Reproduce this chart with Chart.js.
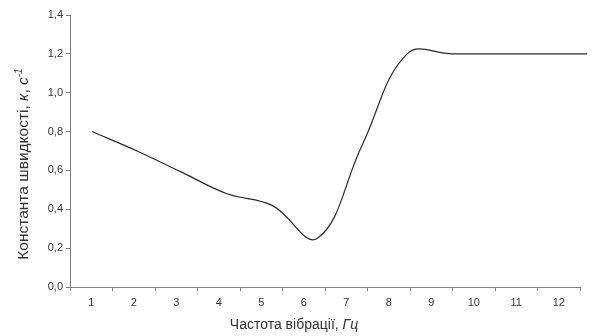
<!DOCTYPE html>
<html lang="uk">
<head>
  <meta charset="UTF-8">
  <title>Константа швидкості</title>
  <script src="https://cdn.jsdelivr.net/npm/chart.js"></script>
  <style>
    body { margin: 0; background: #fff; }
    .wrap { width: 611px; height: 336px; }
  </style>
</head>
<body>
  <div class="wrap"><canvas id="chart"></canvas></div>
  <script>
    // tick labels on the x axis
    const freqLabels = ['1', '2', '3', '4', '5', '6', '7', '8', '9', '10', '11', '12'];
    // measured points (the curve is plotted on its own hidden scale)
    const pointIndex = [1, 2, 3, 4, 5, 6, 7, 8, 9, 10, 11, 12];
    const rateConst = [0.80, 0.70, 0.59, 0.48, 0.42, 0.25, 0.73, 1.20, 1.20, 1.20, 1.20, 1.20];
    const yTicks = [0, 0.2, 0.4, 0.6, 0.8, 1.0, 1.2, 1.4];

    const font = 'Arial, "Liberation Sans", sans-serif';
    const axisGray = '#7f7f7f';
    const textGray = '#333';

    // draw a run of text pieces (some italic / superscript)
    function richText(ctx, parts, size) {
      let w = 0;
      parts.forEach(p => {
        ctx.font = (p.i ? 'italic ' : '') + (p.sup ? size * 0.65 : size) + 'px ' + font;
        p.w = ctx.measureText(p.t).width;
        w += p.w;
      });
      let x = -w / 2;
      parts.forEach(p => {
        ctx.font = (p.i ? 'italic ' : '') + (p.sup ? size * 0.65 : size) + 'px ' + font;
        ctx.fillText(p.t, x, p.sup ? -size * 0.4 : 0);
        x += p.w;
      });
    }

    const titles = {
      id: 'titles',
      afterDraw(chart) {
        const ctx = chart.ctx;
        ctx.save();
        ctx.fillStyle = textGray;
        ctx.textBaseline = 'alphabetic';
        ctx.textAlign = 'left';
        // x title
        ctx.save();
        ctx.translate(294, 329);
        richText(ctx, [{ t: 'Частота вібрації, ' }, { t: 'Гц', i: true }], 14);
        ctx.restore();
        // y title
        ctx.save();
        ctx.translate(28, 164);
        ctx.rotate(-Math.PI / 2);
        richText(ctx, [
          { t: 'Константа швидкості, ' }, { t: 'к', i: true }, { t: ', ' },
          { t: 'с', i: true }, { t: '-1', i: true, sup: true }
        ], 15.5);
        ctx.restore();
        ctx.restore();
      }
    };

    new Chart(document.getElementById('chart'), {
      type: 'line',
      data: {
        labels: freqLabels,
        datasets: [{
          data: pointIndex.map((x, i) => ({ x: x, y: rateConst[i] })),
          xAxisID: 'xp',
          borderColor: '#2a2a2a',
          borderWidth: 1.2,
          pointRadius: 0,
          tension: 0.4,
          fill: false,
          clip: false
        }]
      },
      options: {
        responsive: true,
        maintainAspectRatio: false,
        animation: false,
        layout: { padding: { top: 15, right: 31, left: 0, bottom: 0 } },
        plugins: { legend: { display: false }, tooltip: { enabled: false } },
        scales: {
          x: {
            type: 'category',
            offset: true,
            grid: { offset: true, drawOnChartArea: false, tickLength: 4, color: axisGray },
            border: { color: axisGray, width: 1 },
            ticks: { color: textGray, font: { family: font, size: 11 }, padding: 5, maxRotation: 0 },
            afterFit: s => { s.height = 49; }
          },
          xp: {
            type: 'linear',
            display: false,
            min: 0.511,
            max: 11.84
          },
          y: {
            min: 0,
            max: 1.4,
            afterBuildTicks: s => { s.ticks = yTicks.map(v => ({ value: v })); },
            grid: { drawOnChartArea: false, tickLength: 4, color: axisGray },
            border: { color: axisGray, width: 1 },
            ticks: {
              color: textGray,
              font: { family: font, size: 11 },
              padding: 3,
              callback: v => v.toFixed(1).replace('.', ',')
            },
            afterFit: s => { s.width = 70; }
          }
        }
      },
      plugins: [titles]
    });
  </script>
</body>
</html>
